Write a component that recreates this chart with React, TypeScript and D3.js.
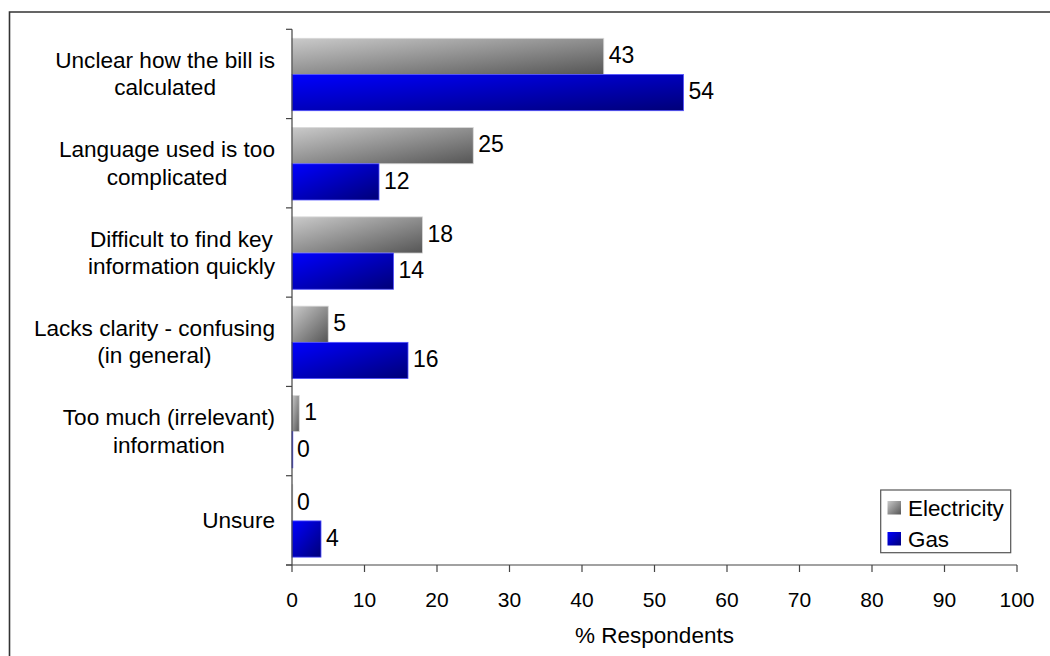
import React, { useEffect, useRef } from "react";
import * as d3 from "d3";

const categories: string[][] = [
  ["Unclear how the bill is", "calculated"],
  ["Language used is too", "complicated"],
  ["Difficult to find key", "information quickly"],
  ["Lacks clarity - confusing", "(in general)"],
  ["Too much (irrelevant)", "information"],
  ["Unsure"],
];
const electricity: number[] = [43, 25, 18, 5, 1, 0];
const gas: number[] = [54, 12, 14, 16, 0, 4];
const seriesNames: string[] = ["Electricity", "Gas"];
const xTicks: number[] = [0, 10, 20, 30, 40, 50, 60, 70, 80, 90, 100];
const xTitle = "% Respondents";

const W = 1050;
const H = 656;
const FONT = "Liberation Sans, Arial, sans-serif";

export default function App() {
  const ref = useRef<SVGSVGElement>(null);
  useEffect(() => {
    const svg = d3.select(ref.current);
    svg.selectAll("*").remove();

    const left = 292, right = 1017, top = 29.3, bottom = 565;
    const x = d3.scaleLinear().domain([0, 100]).range([left, right]);
    const y = d3.scaleBand<number>().domain(d3.range(categories.length)).range([top, bottom]).paddingInner(0).paddingOuter(0);
    const band = y.bandwidth();
    const barPadTop = 9;
    const barH = 36.2;

    const defs = svg.append("defs");
    const g1 = defs.append("linearGradient").attr("id", "gEl").attr("x1", 0).attr("y1", 0).attr("x2", 1).attr("y2", 1);
    g1.append("stop").attr("offset", "0%").attr("stop-color", "#cacaca");
    g1.append("stop").attr("offset", "100%").attr("stop-color", "#555555");
    const g2 = defs.append("linearGradient").attr("id", "gGas").attr("x1", 0).attr("y1", 0).attr("x2", 1).attr("y2", 1);
    g2.append("stop").attr("offset", "0%").attr("stop-color", "#0000ff");
    g2.append("stop").attr("offset", "100%").attr("stop-color", "#000078");

    // frame
    svg.append("path").attr("d", `M9.5,${H} V12 H${W}`).attr("fill", "none").attr("stroke", "#333").attr("stroke-width", 1.6);

    const series = [
      { vals: electricity, fill: "url(#gEl)", stroke: "#d8d8d8", off: 0 },
      { vals: gas, fill: "url(#gGas)", stroke: "#5050ff", off: 1 },
    ];
    series.forEach((s) => {
      const gg = svg.append("g");
      gg.selectAll("rect").data(s.vals).join("rect")
        .attr("x", x(0))
        .attr("y", (_d, i) => (y(i) as number) + barPadTop + s.off * barH)
        .attr("width", (d) => Math.max(x(d) - x(0), 0.8))
        .attr("height", barH)
        .attr("fill", s.fill)
        .attr("stroke", s.stroke)
        .attr("stroke-width", 0.8);
      gg.selectAll("text").data(s.vals).join("text")
        .attr("x", (d) => x(d) + 5)
        .attr("y", (_d, i) => (y(i) as number) + barPadTop + s.off * barH + barH / 2 + 6.8)
        .attr("font-family", FONT).attr("font-size", 23).attr("fill", "#000")
        .text((d) => String(d));
    });

    // y axis
    const axisColor = "#444";
    svg.append("line").attr("x1", left).attr("x2", left).attr("y1", top).attr("y2", bottom).attr("stroke", axisColor).attr("stroke-width", 1.2);
    d3.range(categories.length + 1).forEach((i) => {
      const yy = top + i * band;
      svg.append("line").attr("x1", left - 6).attr("x2", left).attr("y1", yy).attr("y2", yy).attr("stroke", axisColor).attr("stroke-width", 1.2);
    });

    // category labels: block centered, right aligned at 275
    categories.forEach((lines, i) => {
      const cy = (y(i) as number) + band / 2;
      const t = svg.append("text").attr("font-family", FONT).attr("font-size", 22.6).attr("fill", "#000").attr("text-anchor", "middle");
      const n = lines.length;
      lines.forEach((ln, j) => {
        t.append("tspan").attr("y", n === 1 ? cy + 8 : cy - 6 + j * 27.5).text(ln);
      });
      const spans = t.selectAll<SVGTSpanElement, unknown>("tspan").nodes();
      const maxW = d3.max(spans, (s) => s.getComputedTextLength()) || 0;
      const cx = 275 - maxW / 2;
      t.selectAll("tspan").attr("x", cx);
    });

    // x axis
    svg.append("line").attr("x1", left - 6).attr("x2", right).attr("y1", bottom).attr("y2", bottom).attr("stroke", axisColor).attr("stroke-width", 1.2);
    xTicks.forEach((v) => {
      svg.append("line").attr("x1", x(v)).attr("x2", x(v)).attr("y1", bottom).attr("y2", bottom + 7).attr("stroke", axisColor).attr("stroke-width", 1.2);
      svg.append("text").attr("x", x(v)).attr("y", 607).attr("text-anchor", "middle")
        .attr("font-family", FONT).attr("font-size", 21).attr("fill", "#000").text(String(v));
    });
    svg.append("text").attr("x", (left + right) / 2).attr("y", 643).attr("text-anchor", "middle")
      .attr("font-family", FONT).attr("font-size", 22.5).attr("fill", "#000").text(xTitle);

    // legend
    const lg = svg.append("g");
    lg.append("rect").attr("x", 880.7).attr("y", 490).attr("width", 130).attr("height", 62.7)
      .attr("fill", "#fff").attr("stroke", "#555").attr("stroke-width", 1.2);
    seriesNames.forEach((nm, i) => {
      const sy = 501 + i * 31;
      lg.append("rect").attr("x", 887.5).attr("y", sy).attr("width", 13.5).attr("height", 13.5)
        .attr("fill", i === 0 ? "url(#gEl)" : "url(#gGas)");
      lg.append("text").attr("x", 908).attr("y", sy + 15).attr("font-family", FONT).attr("font-size", 22.4)
        .attr("fill", "#000").text(nm);
    });
  }, []);

  return (
    <svg ref={ref} width={W} height={H} style={{ position: "absolute", left: 0, top: 0, background: "#fff" }} />
  );
}
